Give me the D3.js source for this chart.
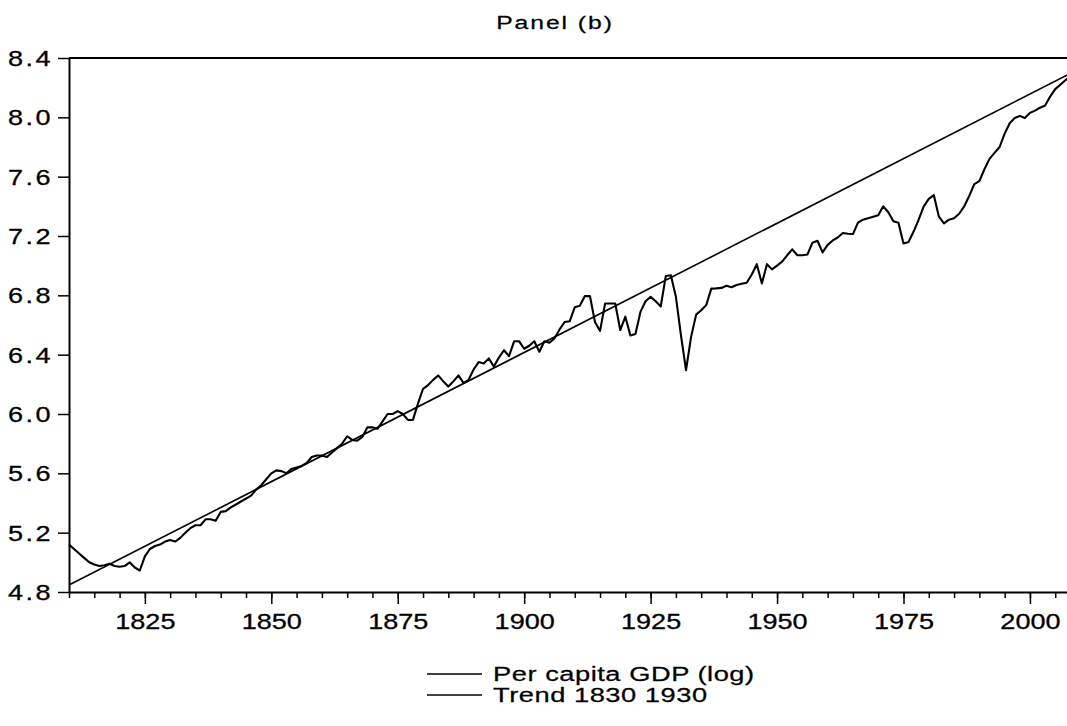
<!DOCTYPE html>
<html><head><meta charset="utf-8">
<script src="https://cdn.jsdelivr.net/npm/d3@7"></script>
<style>
html,body{margin:0;padding:0;background:#fff}
svg{display:block}
text{font-family:"Liberation Sans",Arial,Helvetica,sans-serif;fill:#000}
</style>
</head><body>
<svg id="c" width="1067" height="726"></svg>
<script>
// ---------------- data ----------------
const title = "Panel (b)";
const seriesNames = ["Per capita GDP (log)", "Trend 1830 1930"];
const firstYear = 1810;
const lastYear = 2008;
// annual log per-capita GDP, 1810 .. 2008
const gdpLog = [
  5.12, 5.09, 5.06, 5.03, 5.00, 4.985, 4.975, 4.98, 4.99, 4.975,   // 1810-1819
  4.97, 4.975, 5.00, 4.965, 4.945, 5.04, 5.09, 5.11, 5.12, 5.14,   // 1820-1829
  5.15, 5.14, 5.165, 5.20, 5.23, 5.25, 5.25, 5.29, 5.29, 5.28,     // 1830-1839
  5.34, 5.345, 5.37, 5.39, 5.41, 5.43, 5.45, 5.49, 5.52, 5.56,     // 1840-1849
  5.60, 5.62, 5.615, 5.60, 5.63, 5.64, 5.65, 5.67, 5.71, 5.72,     // 1850-1859
  5.72, 5.71, 5.74, 5.77, 5.80, 5.85, 5.825, 5.82, 5.845, 5.91,    // 1860-1869
  5.91, 5.90, 5.95, 6.00, 6.00, 6.02, 6.00, 5.96, 5.96, 6.07,      // 1870-1879
  6.17, 6.195, 6.23, 6.26, 6.22, 6.185, 6.22, 6.26, 6.21, 6.23,    // 1880-1889
  6.30, 6.35, 6.34, 6.375, 6.32, 6.38, 6.43, 6.39, 6.49, 6.49,     // 1890-1899
  6.44, 6.46, 6.49, 6.42, 6.49, 6.48, 6.51, 6.57, 6.62, 6.625,     // 1900-1909
  6.72, 6.73, 6.795, 6.795, 6.62, 6.56, 6.745, 6.745, 6.745, 6.566,// 1910-1919
  6.656, 6.53, 6.54, 6.69, 6.76, 6.79, 6.76, 6.725, 6.93, 6.935,   // 1920-1929
  6.79, 6.53, 6.296, 6.52, 6.67, 6.70, 6.735, 6.845, 6.847, 6.85,  // 1930-1939
  6.865, 6.855, 6.87, 6.878, 6.885, 6.94, 7.01, 6.88, 7.01, 6.975, // 1940-1949
  7.00, 7.027, 7.07, 7.11, 7.07, 7.07, 7.075, 7.155, 7.168, 7.09,  // 1950-1959
  7.14, 7.17, 7.19, 7.22, 7.215, 7.213, 7.29, 7.31, 7.32, 7.33,    // 1960-1969
  7.34, 7.40, 7.36, 7.30, 7.29, 7.15, 7.16, 7.23, 7.31, 7.40,      // 1970-1979
  7.45, 7.475, 7.33, 7.285, 7.31, 7.32, 7.35, 7.40, 7.47, 7.55,    // 1980-1989
  7.57, 7.65, 7.72, 7.76, 7.80, 7.89, 7.96, 7.995, 8.01, 7.995,    // 1990-1999
  8.03, 8.045, 8.065, 8.08, 8.14, 8.19, 8.22, 8.25, 8.28           // 2000-2008
];
const trendYears = [1810, 2008];
const trendValues = [4.847, 8.296];
const yTicks = [4.8, 5.2, 5.6, 6.0, 6.4, 6.8, 7.2, 7.6, 8.0, 8.4];
const xMajorTicks = [1825, 1850, 1875, 1900, 1925, 1950, 1975, 2000];
const xMinorTicks = [1810,1815,1820,1825,1830,1835,1840,1845,1850,1855,1860,1865,1870,1875,1880,1885,1890,1895,1900,1905,1910,1915,1920,1925,1930,1935,1940,1945,1950,1955,1960,1965,1970,1975,1980,1985,1990,1995,2000,2005];

// ---------------- layout ----------------
const svg = d3.select("#c");
const mLeft = 69, mRight = 1070.4, mTop = 58, mBottom = 592;
const x = d3.scaleLinear().domain([firstYear, lastYear]).range([mLeft, mRight]);
const y = d3.scaleLinear().domain([4.8, 8.4]).range([mBottom, mTop]);
const SX = 1.23;

const gdp = gdpLog.map((v, i) => ({year: firstYear + i, v}));
const trend = trendYears.map((yr, i) => ({year: yr, v: trendValues[i]}));
const line = d3.line().x(d => x(d.year)).y(d => y(d.v));

// series
svg.append("path").datum(trend).attr("d", line)
  .attr("fill", "none").attr("stroke", "#000").attr("stroke-width", 1.6);
svg.append("path").datum(gdp).attr("d", line)
  .attr("fill", "none").attr("stroke", "#000").attr("stroke-width", 2.1)
  .attr("stroke-linejoin", "round");

// top border
svg.append("line").attr("x1", mLeft).attr("x2", mRight).attr("y1", mTop).attr("y2", mTop)
  .attr("stroke", "#000").attr("stroke-width", 2);

// y axis
const gy = svg.append("g").attr("transform", `translate(${mLeft},0)`)
  .call(d3.axisLeft(y).tickValues(yTicks).tickFormat(d3.format(".1f")).tickSize(11).tickSizeOuter(0));
gy.select(".domain").attr("stroke-width", 2);
gy.selectAll(".tick line").attr("stroke-width", 1.5);
gy.selectAll(".tick text").attr("x", -13).attr("dy", "0.34em")
  .attr("font-size", 22).attr("letter-spacing", 2)
  .attr("stroke", "#000").attr("stroke-width", 0.3)
  .attr("transform", `scale(${SX},1)`).style("font-family", '"Liberation Sans",Arial,sans-serif');

// x axis minor
const gxm = svg.append("g").attr("transform", `translate(0,${mBottom})`)
  .call(d3.axisBottom(x).tickValues(xMinorTicks).tickFormat("").tickSize(6).tickSizeOuter(0));
gxm.select(".domain").attr("stroke-width", 2);
gxm.selectAll(".tick line").attr("stroke-width", 1.5);
// x axis major
const gx = svg.append("g").attr("transform", `translate(0,${mBottom})`)
  .call(d3.axisBottom(x).tickValues(xMajorTicks).tickFormat(d3.format("d")).tickSize(12).tickSizeOuter(0));
gx.select(".domain").remove();
gx.selectAll(".tick line").attr("stroke-width", 1.5);
gx.selectAll(".tick text").attr("y", 21).attr("dy", "0.72em")
  .attr("font-size", 22).attr("transform", `scale(${SX},1)`)
  .attr("stroke", "#000").attr("stroke-width", 0.3)
  .style("font-family", '"Liberation Sans",Arial,sans-serif');

// title
svg.append("g").attr("transform", "translate(555,29) scale(1.3,1)")
  .append("text").attr("text-anchor", "middle").attr("font-size", 19)
  .attr("stroke", "#000").attr("stroke-width", 0.25)
  .attr("letter-spacing", 1.5).text(title);

// legend
const legendRows = [674, 695];
seriesNames.forEach((name, i) => {
  svg.append("line").attr("x1", 427).attr("x2", 482)
    .attr("y1", legendRows[i]).attr("y2", legendRows[i])
    .attr("stroke", "#000").attr("stroke-width", 1.6);
  svg.append("g").attr("transform", `translate(493,${legendRows[i] + 7}) scale(1.3,1)`)
    .append("text").attr("font-size", 21).attr("letter-spacing", 0.4)
    .attr("stroke", "#000").attr("stroke-width", 0.25).text(name);
});
</script>
</body></html>
